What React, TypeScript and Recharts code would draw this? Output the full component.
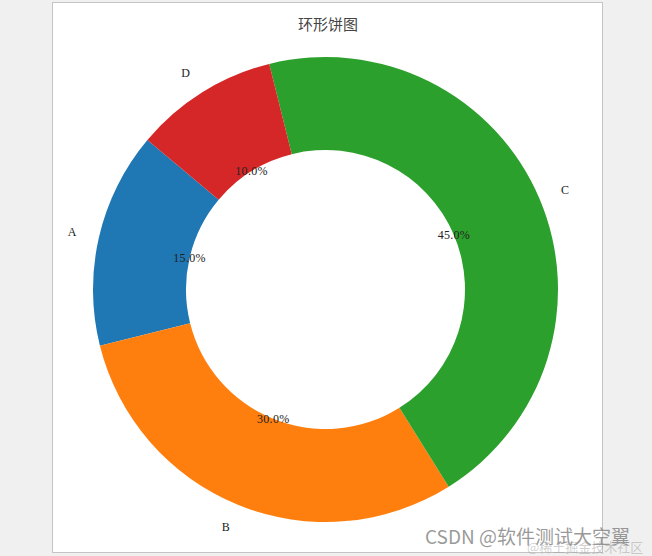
import React from "react"
import { Cell, Pie, PieChart } from "recharts"

// donut slices, counter-clockwise from 140deg (matplotlib startangle=140)
const labels = ["A", "B", "C", "D"]
const sizes = [15, 30, 45, 10]
const colors = ["#1f77b4", "#ff7f0e", "#2ca02c", "#d62728"]
const title = "环形饼图"

const data = labels.map((name, i) => ({ name, value: sizes[i] }))

const RADIAN = Math.PI / 180
const labelFont = "'Liberation Serif', 'DejaVu Serif', serif"

function renderLabel(props: any) {
  const { cx, cy, midAngle, outerRadius, percent, name } = props
  const cos = Math.cos(-midAngle * RADIAN)
  const sin = Math.sin(-midAngle * RADIAN)
  // outer name at 1.1 R, percentage at 0.6 R (matplotlib defaults)
  const ox = cx + outerRadius * 1.1 * cos
  const oy = cy + outerRadius * 1.1 * sin
  const px = cx + outerRadius * 0.6 * cos
  const py = cy + outerRadius * 0.6 * sin
  return (
    <g>
      <text
        x={ox}
        y={oy}
        textAnchor={cos >= 0 ? "start" : "end"}
        dominantBaseline="central"
        fill="#222"
        fontSize={12}
        fontFamily={labelFont}
      >
        {name}
      </text>
      <text
        x={px}
        y={py}
        textAnchor="middle"
        dominantBaseline="central"
        fill="#222"
        fontSize={12}
        fontFamily={labelFont}
        letterSpacing={0.3}
      >
        {(percent * 100).toFixed(1)}%
      </text>
    </g>
  )
}

export default function App() {
  return (
    <div
      style={{
        position: "fixed",
        left: 0,
        top: 0,
        width: 652,
        height: 556,
        background: "#f0f0f0",
        overflow: "hidden",
      }}
    >
      <div
        style={{
          position: "absolute",
          left: 52,
          top: 2,
          width: 549,
          height: 549,
          background: "#fff",
          border: "1px solid #c4c4c4",
        }}
      />
      <div
        style={{
          position: "absolute",
          left: 0,
          top: 13,
          width: 652,
          textAlign: "center",
          paddingLeft: 2,
          fontFamily: "'Noto Sans CJK SC', sans-serif",
          fontSize: 15,
          color: "#444",
        }}
      >
        {title}
      </div>
      <div style={{ position: "absolute", left: 0, top: 0 }}>
        <PieChart width={652} height={556} margin={{ top: 0, right: 0, bottom: 0, left: 0 }}>
          <Pie
            data={data}
            dataKey="value"
            nameKey="name"
            cx={325.5}
            cy={289.5}
            innerRadius={139.5}
            outerRadius={232.5}
            startAngle={140}
            endAngle={500}
            stroke="none"
            label={renderLabel}
            labelLine={false}
            isAnimationActive={false}
          >
            {data.map((d, i) => (
              <Cell key={d.name} fill={colors[i]} />
            ))}
          </Pie>
        </PieChart>
      </div>
      <div
        style={{
          position: "absolute",
          left: 425,
          top: 522,
          fontFamily: "'Noto Sans CJK SC', sans-serif",
          fontSize: 19,
          color: "rgba(120,120,120,0.75)",
          whiteSpace: "nowrap",
        }}
      >
        CSDN @软件测试大空翼
      </div>
      <div
        style={{
          position: "absolute",
          left: 527,
          top: 537,
          fontFamily: "'Noto Sans CJK SC', sans-serif",
          fontSize: 13,
          color: "rgba(150,150,150,0.45)",
          whiteSpace: "nowrap",
        }}
      >
        @稀土掘金技术社区
      </div>
    </div>
  )
}
